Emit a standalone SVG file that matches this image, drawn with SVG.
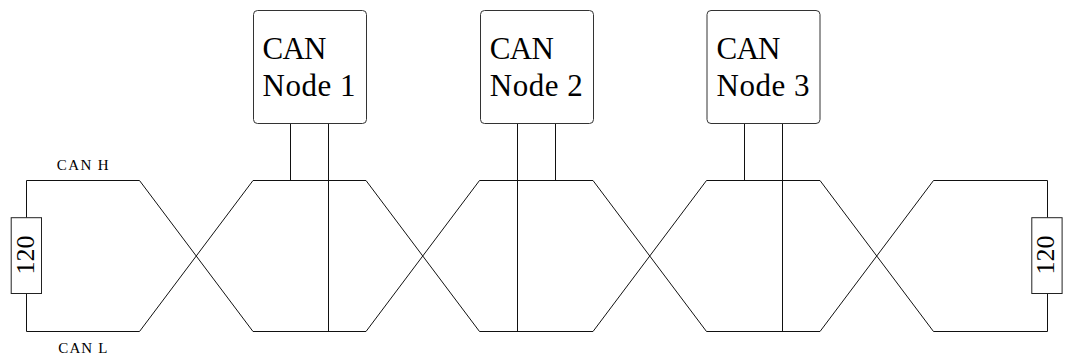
<svg xmlns="http://www.w3.org/2000/svg" width="1068" height="360" viewBox="0 0 1068 360">
<style>
.wire{fill:none;stroke:#111;stroke-width:1}
.box{fill:#fff;stroke:#333;stroke-width:1}
.res{fill:#fff;stroke:#222;stroke-width:1}
text{font-family:'Liberation Serif','DejaVu Serif','Nimbus Roman','Nimbus Roman No9 L','FreeSerif','Noto Serif','Times New Roman',Times,serif;fill:#000}
.lbl{font-size:31px}
.val{font-size:26px}
.small{font-size:15px}
</style>
<rect width="1068" height="360" fill="#fff"/>
<g id="connectors">
<path class="wire" d="M26.5,217.7 V180.5 H139.5 L253,331.5 H366 L479.5,180.5 H593 L706.5,331.5 H820 L933.5,180.5 H1047.5 V217.7"/>
<path class="wire" d="M26.5,293.5 V331.5 H139.5 L253,180.5 H366 L479.5,331.5 H593 L706.5,180.5 H820 L933.5,331.5 H1047.5 V293.5"/>
<path class="wire" d="M290.5,123.5 V180.5 M328.5,123.5 V331.5"/>
<path class="wire" d="M517.5,123.5 V331.5 M555.5,123.5 V180.5"/>
<path class="wire" d="M744.5,123.5 V180.5 M782.5,123.5 V331.5"/>
</g>
<g id="label-canh"><text class="small" x="56.7" y="170" textLength="52" lengthAdjust="spacing">CAN H</text></g>
<g id="label-canl"><text class="small" x="58.3" y="353.3" textLength="49" lengthAdjust="spacing">CAN L</text></g>
<g id="resistor-left">
<rect class="res" x="11.2" y="217.7" width="30.3" height="75.8"/>
<text class="val" text-anchor="middle" transform="translate(33.5,255) rotate(-90)">120</text>
</g>
<g id="resistor-right">
<rect class="res" x="1031.8" y="217.7" width="30.3" height="75.8"/>
<text class="val" text-anchor="middle" transform="translate(1054,255) rotate(-90)">120</text>
</g>
<g id="node1">
<rect class="box" x="253.5" y="10.5" width="113" height="113" rx="4"/>
<text class="lbl" x="262.5" y="58.5" textLength="64" lengthAdjust="spacing">CAN</text>
<text class="lbl" x="262.5" y="95.7" textLength="93" lengthAdjust="spacing">Node 1</text>
</g>
<g id="node2">
<rect class="box" x="480.5" y="10.5" width="113" height="113" rx="4"/>
<text class="lbl" x="489.8" y="58.5" textLength="64" lengthAdjust="spacing">CAN</text>
<text class="lbl" x="489.8" y="95.7" textLength="93" lengthAdjust="spacing">Node 2</text>
</g>
<g id="node3">
<rect class="box" x="707" y="10.5" width="113" height="113" rx="4"/>
<text class="lbl" x="716.5" y="58.5" textLength="64" lengthAdjust="spacing">CAN</text>
<text class="lbl" x="716.5" y="95.7" textLength="93" lengthAdjust="spacing">Node 3</text>
</g>
</svg>
